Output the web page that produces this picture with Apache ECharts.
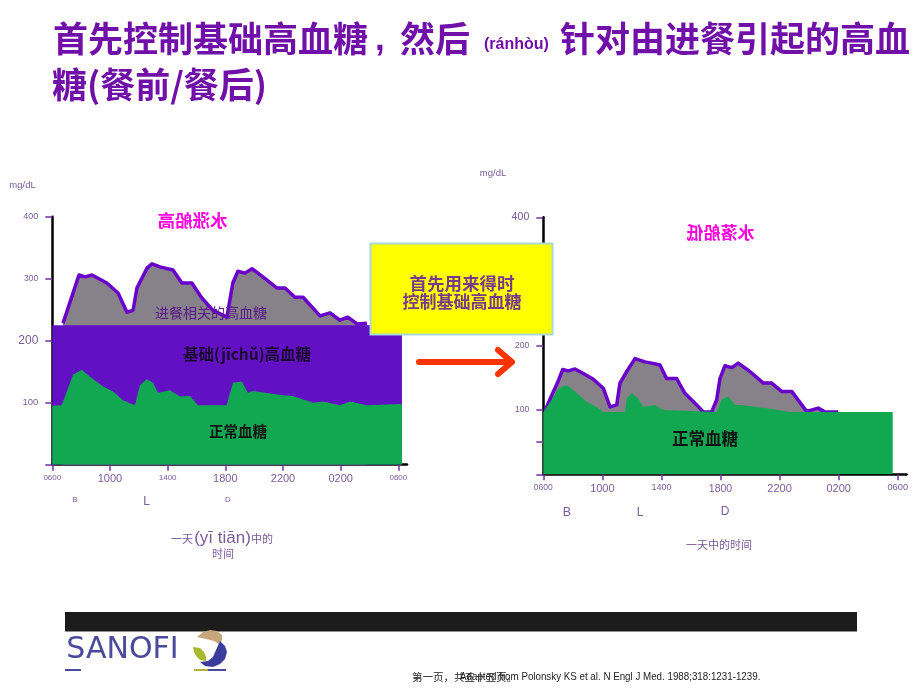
<!DOCTYPE html>
<html><head><meta charset="utf-8">
<script src="https://cdn.jsdelivr.net/npm/echarts@6/dist/echarts.min.js"></script>
<style>html,body{margin:0;padding:0;background:#fff}#c{width:920px;height:691px}</style>
</head><body><div id="c"></div>
<script>
// Hours of day (6 = 06:00, 30 = 06:00 next day), glucose mg/dL
const xTicks = [6, 10, 14, 18, 22, 26, 30];
const xTickLabels = ['0600', '1000', '1400', '1800', '2200', '0200', '0600'];
const yTicks = [0, 100, 200, 300, 400];

// Left panel: total glucose curve (meal-related hyperglycaemia on top)
const leftTotalHour = [6.74, 7.85, 8.27, 8.75, 9.79, 10.56, 11.18, 11.6, 11.87, 12.57, 12.91, 13.47, 14.37, 14.99, 15.68, 16.37, 17.14, 18.11, 18.52, 18.87, 19.36, 19.85, 20.61, 21.58, 22.14, 22.83, 23.39, 24.57, 25.26, 25.95, 26.5, 27.13, 27.82];
const leftTotalValue = [228, 306, 303, 306, 293, 277, 246, 249, 285, 317, 324, 319, 314, 293, 293, 269, 249, 238, 293, 312, 309, 316, 303, 285, 285, 270, 270, 240, 245, 233, 238, 227, 228];
// Left panel: basal hyperglycaemia level
const leftBasalHour = [6, 30.25];
const leftBasalValue = [225, 225];
// Left panel: normal glucose
const leftNormalHour = [6, 6.65, 7.44, 8.04, 8.61, 9.52, 10.21, 10.9, 11.73, 12.08, 12.55, 12.98, 13.33, 14.16, 14.86, 15.55, 16.1, 18.09, 18.53, 19.13, 19.57, 19.92, 22.0, 22.69, 24.08, 24.77, 25.95, 26.64, 27.82, 30.11, 30.25];
const leftNormalValue = [95, 96, 145, 153, 142, 126, 118, 104, 96, 128, 138, 132, 116, 120, 110, 111, 96, 96, 132, 134, 116, 119, 112, 111, 100, 102, 96, 102, 96, 98, 97];

// Right panel: total glucose curve after basal control
const rightTotalHour = [6.12, 6.57, 6.95, 7.31, 7.69, 8.15, 8.71, 9.39, 10.06, 10.52, 10.97, 11.19, 11.65, 12.21, 12.32, 12.89, 13.34, 13.9, 14.35, 15.03, 15.59, 16.39, 16.83, 17.4, 17.74, 17.96, 18.3, 18.76, 19.2, 19.99, 20.9, 21.46, 22.14, 22.82, 23.83, 24.62, 25.07, 25.97];
const rightTotalValue = [99, 123, 142, 163, 161, 164, 157, 148, 134, 105, 108, 142, 160, 180, 182, 175, 173, 170, 149, 149, 126, 108, 97, 97, 116, 149, 169, 166, 173, 160, 142, 142, 129, 129, 98, 103, 97, 97];
// Right panel: normal glucose
const rightNormalHour = [6, 6.57, 7.02, 7.58, 8.03, 8.94, 9.72, 10.06, 11.53, 11.65, 11.99, 12.43, 12.77, 13.56, 14.12, 17.74, 18.08, 18.53, 18.98, 19.32, 21.35, 22.7, 29.66];
const rightNormalValue = [97, 116, 134, 139, 131, 113, 103, 97, 97, 118, 126, 118, 105, 108, 100, 97, 116, 121, 108, 108, 102, 97, 97];

const zip = (a, b) => a.map((v, i) => [v, b[i]]);

const CJK = '"Noto Sans CJK SC", "Noto Sans", sans-serif';
const LAT = '"Liberation Sans", Arial, sans-serif';
const PURPLE_LINE = '#6a00cc';
const GRAY_FILL = '#878189';
const BASAL_FILL = '#6210c4';
const GREEN_FILL = '#12a852';
const LABEL_COL = '#7a5a9a';

const chart = echarts.init(document.getElementById('c'), null, {renderer: 'canvas'});

function xAxisDef(gi, sizes) {
  const rich = {};
  sizes.forEach((s, i) => { rich['s' + i] = {fontSize: s, fontFamily: LAT, color: LABEL_COL}; });
  return {
    gridIndex: gi, type: 'value', min: 6, max: 30.6,
    axisLine: {show: true, onZero: false, lineStyle: {color: '#000', width: 2.5}},
    axisTick: {show: true, customValues: xTicks, length: 6, lineStyle: {color: '#7030a0', width: 1.5}},
    splitLine: {show: false},
    axisLabel: {
      customValues: xTicks, margin: 9, color: LABEL_COL, fontFamily: LAT, showMaxLabel: true, showMinLabel: true,
      formatter: (v) => { const i = xTicks.indexOf(v); return '{s' + i + '|' + xTickLabels[i] + '}'; },
      rich: rich
    }
  };
}
function yAxisDef(gi, tickVals, labelVals, sizes) {
  const rich = {};
  labelVals.forEach((v, i) => { rich['t' + v] = {fontSize: sizes[i], fontFamily: LAT, color: LABEL_COL}; });
  return {
    gridIndex: gi, type: 'value', min: 0, max: 400,
    axisLine: {show: true, onZero: false, lineStyle: {color: '#000', width: 2.5}},
    axisTick: {show: true, customValues: tickVals, length: 7, lineStyle: {color: '#7030a0', width: 1.5}},
    splitLine: {show: false},
    axisLabel: {
      customValues: labelVals, margin: 14, color: LABEL_COL, fontFamily: LAT,
      formatter: (v) => '{t' + v + '|' + v + '}',
      rich: rich
    }
  };
}

function areaSeries(xi, data, fill, line, z) {
  return {
    type: 'line', xAxisIndex: xi, yAxisIndex: xi, data: data, symbol: 'none', smooth: false,
    lineStyle: line ? {color: PURPLE_LINE, width: 3.5, join: 'round'} : {width: 0, opacity: 0},
    areaStyle: {color: fill, opacity: 1}, z: z, silent: true, animation: false
  };
}

function txt(x, y, text, size, color, opts) {
  opts = opts || {};
  return {
    type: 'text', x: x, y: y, z: opts.z || 50, scaleX: opts.scaleX || 1, silent: true,
    style: {
      text: text, fontSize: size, fill: color, fontFamily: opts.font || CJK,
      fontWeight: opts.bold ? 'bold' : 'normal',
      align: opts.align || 'center', verticalAlign: 'middle'
    }
  };
}

const option = {
  animation: false,
  backgroundColor: '#fff',
  grid: [
    {left: 52.3, top: 216.7, width: 354.7, height: 248, outerBoundsMode: 'none', containLabel: false},
    {left: 543.3, top: 217.3, width: 363.3, height: 257, outerBoundsMode: 'none', containLabel: false}
  ],
  xAxis: [
    xAxisDef(0, [8, 11, 8, 11, 11, 11, 8]),
    xAxisDef(1, [8.5, 11, 9, 10.5, 11, 11, 9.3])
  ],
  yAxis: [
    yAxisDef(0, yTicks, [100, 200, 300, 400], [9.5, 12, 8.5, 9]),
    yAxisDef(1, [0, 50, 100, 200, 300, 400], [100, 200, 400], [8.6, 8.6, 10.6])
  ],
  series: [
    areaSeries(0, zip(leftTotalHour, leftTotalValue), GRAY_FILL, true, 2),
    areaSeries(0, zip(leftBasalHour, leftBasalValue), BASAL_FILL, false, 3),
    areaSeries(0, zip(leftNormalHour, leftNormalValue), GREEN_FILL, false, 4),
    areaSeries(1, zip(rightTotalHour, rightTotalValue), GRAY_FILL, true, 2),
    areaSeries(1, zip(rightNormalHour, rightNormalValue), GREEN_FILL, false, 4)
  ],
  graphic: [
    // Title
    txt(53, 38.3, '首先控制基础高血糖', 35, '#7010a8', {bold: true, align: 'left'}),
    txt(375, 40, ',', 35, '#7010a8', {bold: true, align: 'left', font: LAT}),
    txt(400, 38.3, '然后', 35, '#7010a8', {bold: true, align: 'left'}),
    txt(484, 45, '(ránhòu)', 16, '#7010a8', {bold: true, align: 'left', font: LAT}),
    txt(560, 38.3, '针对由进餐引起的高血', 35, '#7010a8', {bold: true, align: 'left'}),
    txt(52, 85, '糖(餐前/餐后)', 35, '#7010a8', {bold: true, align: 'left'}),
    // units
    txt(22.5, 185.7, 'mg/dL', 9.5, LABEL_COL, {font: LAT}),
    txt(493, 173, 'mg/dL', 9.5, LABEL_COL, {font: LAT}),
    // mirrored magenta captions
    txt(192.5, 220, '水涨船高', 17.5, '#ff00dd', {bold: true, scaleX: -1}),
    txt(720.5, 233, '水落船低', 17, '#ff00dd', {bold: true, scaleX: -1}),
    // in-chart labels
    txt(211, 313, '进餐相关的高血糖', 14, '#5a1a8a', {z: 60}),
    txt(247, 354, '基础(jīchǔ)高血糖', 15.5, '#1a0a2a', {bold: true, z: 60}),
    txt(238, 431, '正常血糖', 14.5, '#111', {bold: true, z: 60}),
    txt(705, 439, '正常血糖', 16.5, '#111', {bold: true, z: 60}),
    // meals
    txt(75, 500, 'B', 8, LABEL_COL, {font: LAT}),
    txt(146.7, 502, 'L', 12, LABEL_COL, {font: LAT}),
    txt(228, 500, 'D', 8, LABEL_COL, {font: LAT}),
    txt(567, 513, 'B', 12.5, LABEL_COL, {font: LAT}),
    txt(640, 513, 'L', 12, LABEL_COL, {font: LAT}),
    txt(725, 512, 'D', 12, LABEL_COL, {font: LAT}),
    // axis titles
    txt(182, 539, '一天', 11, LABEL_COL, {align: 'center'}),
    txt(222.5, 538, '(yī tiān)', 17, LABEL_COL, {font: LAT}),
    txt(262, 539, '中的', 11, LABEL_COL, {align: 'center'}),
    txt(223, 553.5, '时间', 11, LABEL_COL),
    txt(719, 544.5, '一天中的时间', 11, LABEL_COL),
    // yellow callout box
    {type: 'rect', z: 80, silent: true, shape: {x: 370.5, y: 243.5, width: 182, height: 91},
      style: {fill: '#ffff00', stroke: '#a8d8d8', lineWidth: 2}},
    txt(462, 283.5, '首先用来得时', 17.5, '#7a3a8c', {bold: true, z: 81}),
    txt(462, 301.5, '控制基础高血糖', 17, '#7a3a8c', {bold: true, z: 81}),
    // red arrow
    {type: 'polyline', z: 70, silent: true, shape: {points: [[419, 362], [510, 362]]},
      style: {stroke: '#ff3300', lineWidth: 6, lineCap: 'round'}},
    {type: 'polyline', z: 70, silent: true, shape: {points: [[498, 350], [512, 362], [498, 374]]},
      style: {stroke: '#ff3300', fill: null, lineWidth: 6, lineCap: 'round', lineJoin: 'round'}},
    // footer bar
    {type: 'rect', silent: true, shape: {x: 65, y: 612, width: 792, height: 19.5}, style: {fill: '#1c1c1c'}},
    // Sanofi logo
    txt(122.5, 650.5, 'SANOFI', 30, '#4b4b9b', {align: 'center', font: '"DejaVu Sans", sans-serif'}),
    {type: 'rect', silent: true, shape: {x: 65, y: 669, width: 16, height: 2}, style: {fill: '#4b4b9b'}},
    {type: 'polygon', silent: true, shape: {points: [[197, 637], [203, 632], [210, 630], [217, 631], [222, 635], [222, 640], [219, 644], [214, 641], [206, 639]]}, style: {fill: '#c6a77c'}},
    {type: 'polygon', silent: true, shape: {points: [[193, 647], [200, 648], [204, 652], [206, 657], [206, 661], [200, 660], [196, 656], [194, 652]]}, style: {fill: '#a9b92e'}},
    {type: 'polygon', silent: true, shape: {points: [[220, 641], [225, 646], [227, 652], [225, 659], [220, 664], [213, 667], [205, 666], [200, 662], [208, 661], [213, 657], [216, 650]]}, style: {fill: '#3c3c9c'}},
    {type: 'rect', silent: true, shape: {x: 194, y: 669, width: 14, height: 2}, style: {fill: '#b3b33a'}},
    {type: 'rect', silent: true, shape: {x: 208, y: 669, width: 18, height: 2}, style: {fill: '#4b4b9b'}},
    // footer notes
    txt(412, 677, '第一页，共五十五页。', 10.5, '#222', {align: 'left'}),
    txt(460, 677, 'Adapted from Polonsky KS et al. N Engl J Med. 1988;318:1231-1239.', 10.8, '#222', {align: 'left', font: LAT, scaleX: 0.905})
  ]
};
chart.setOption(option);
</script>
</body></html>
